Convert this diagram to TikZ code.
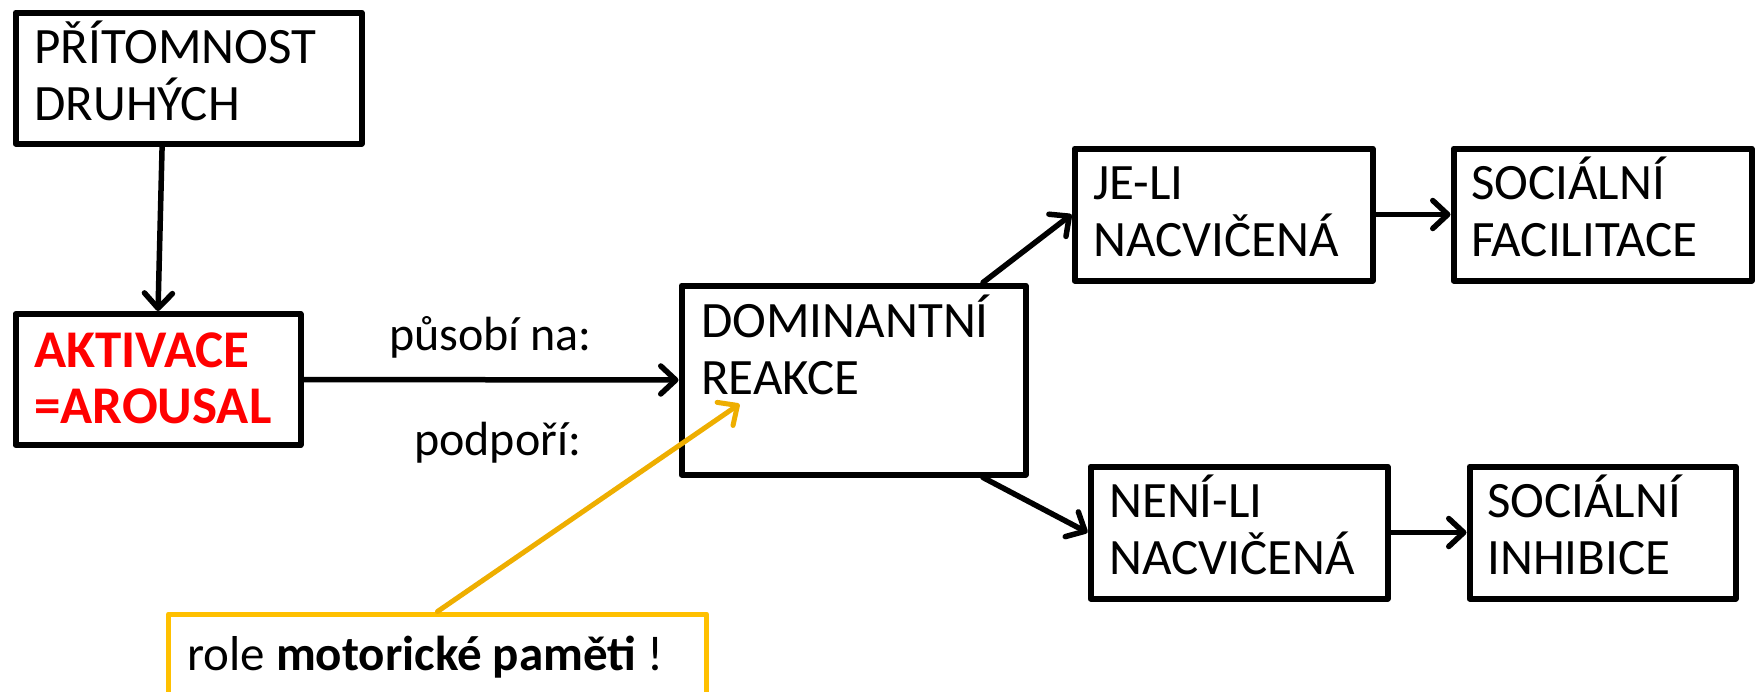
\documentclass[tikz,border=0pt]{standalone}
\usepackage{fontspec}
\setmainfont{Carlito}
\usetikzlibrary{arrows.meta,calc}
\definecolor{aktred}{RGB}{255,0,0}
\definecolor{ybox}{RGB}{255,192,0}
\definecolor{yarr}{RGB}{238,174,0}
\newcommand{\twolines}[2]{\vtop{\hbox{#1}\hbox{#2}}}
\tikzset{
  box/.style={draw, line width=6pt, rectangle, inner sep=0pt, line join=round},
  arr/.style={line width=5.5pt, line cap=round,
    -{Straight Barb[length=15pt,width=28pt,line cap=round,line join=round]}},
  yarrow/.style={arr, line width=5pt, draw=yarr},
  txt/.style={anchor=base west, inner sep=0pt, font=\fontsize{51}{57}\selectfont},
}
\begin{document}
\begin{tikzpicture}[x=1pt,y=-1pt]
\useasboundingbox (0,0) rectangle (1758,691);
% boxes
\node[box, minimum width=346pt, minimum height=131pt] (b1) at (188.5,78) {};
\node[box, minimum width=285pt, minimum height=131pt] (b2) at (158,379.5) {};
\node[box, minimum width=344pt, minimum height=189pt] (dom) at (853.5,380) {};
\node[box, minimum width=298pt, minimum height=132pt] (je) at (1223.5,214.5) {};
\node[box, minimum width=298pt, minimum height=132pt] (fac) at (1602.5,214.5) {};
\node[box, minimum width=297pt, minimum height=132pt] (neni) at (1239,532.5) {};
\node[box, minimum width=266pt, minimum height=132pt] (inh) at (1602.5,532.5) {};
\node[box, draw=ybox, line width=5pt, minimum width=538pt, minimum height=92pt] (yb) at (437.5,660) {};
% texts
\node[txt] (t1) at (34,63) {\twolines{PŘÍTOMNOST}{DRUHÝCH}};
\node[txt, text=aktred, font=\fontsize{53}{56}\selectfont\bfseries] (t2) at (34,367) {\twolines{AKTIVACE}{=AROUSAL}};
\node[txt] (t3) at (701,337) {\twolines{DOMINANTNÍ}{REAKCE}};
\node[txt] (t4) at (1093,199) {\twolines{JE-LI}{NACVIČENÁ}};
\node[txt] (t5) at (1471,199) {\twolines{SOCIÁLNÍ}{FACILITACE}};
\node[txt] (t6) at (1109,517) {\twolines{NENÍ-LI}{NACVIČENÁ}};
\node[txt] (t7) at (1487,517) {\twolines{SOCIÁLNÍ}{INHIBICE}};
\node[txt, font=\fontsize{49}{57}\selectfont] (t8) at (187,670) {role \textbf{motorické paměti} !};
\node[txt, font=\fontsize{48}{57}\selectfont] (l1) at (389,350) {působí na:};
\node[txt, font=\fontsize{48}{57}\selectfont] (l2) at (414,455) {podpoří:};
% connectors
\draw[arr] ($(b1.south west)!0.425!(b1.south east)$) -- (b2.north);
\draw[arr] (b2.east) -- (dom.west);
\draw[arr] ($(dom.north west)!0.87!(dom.north east)$) -- (je.west);
\draw[arr] ($(dom.south west)!0.87!(dom.south east)$) -- (neni.west);
\draw[arr] (je.east) -- (fac.west);
\draw[arr] (neni.east) -- (inh.west);
\coordinate (ytip) at ($(dom.west)+(61,24)$);
\draw[yarrow] (yb.north) -- (ytip);
\end{tikzpicture}
\end{document}
